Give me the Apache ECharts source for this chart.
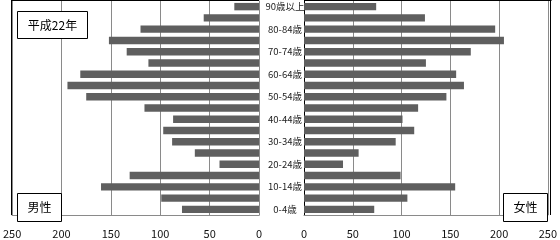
<!DOCTYPE html>
<html><head><meta charset="utf-8">
<script src="https://cdn.jsdelivr.net/npm/echarts@6/dist/echarts.min.js"></script>
<style>html,body{margin:0;padding:0;background:#fff}#c{width:560px;height:240px}</style>
</head><body><div id="c"></div>
<script>
const categories = ['0-4歳','5-9歳','10-14歳','15-19歳','20-24歳','25-29歳','30-34歳','35-39歳','40-44歳','45-49歳','50-54歳','55-59歳','60-64歳','65-69歳','70-74歳','75-79歳','80-84歳','85-89歳','90歳以上'];
const male   = [78, 99, 160, 131, 40, 65, 88, 97, 87, 116, 175, 194, 181, 112, 134, 152, 120, 56, 25];
const female = [72, 106, 155, 99, 40, 56, 94, 113, 101, 117, 146, 164, 156, 125, 171, 205, 196, 124, 74];
const ticks = [0, 50, 100, 150, 200, 250];

const FONT = '"Noto Sans CJK JP","Noto Sans",sans-serif';
const gridCol = '#8a8a8a';
const barCol = '#5f5f5f';

const chart = echarts.init(document.getElementById('c'), null, {renderer:'canvas'});
const valueAxisBase = {
  type:'value', min:ticks[0], max:ticks[ticks.length-1], interval:ticks[1]-ticks[0],
  axisLine:{show:true, lineStyle:{color:gridCol, width:1}},
  axisTick:{show:false},
  splitLine:{show:true, lineStyle:{color:gridCol, width:1}},
  axisLabel:{color:'#111', fontSize:11, fontFamily:FONT, margin:13}
};
chart.setOption({
  animation:false,
  grid:[
    {left:11, right:301, top:1, bottom:25},
    {left:304, right:9, top:1, bottom:25}
  ],
  xAxis:[
    Object.assign({}, valueAxisBase, {gridIndex:0, inverse:true}),
    Object.assign({}, valueAxisBase, {gridIndex:1})
  ],
  yAxis:[
    {type:'category', gridIndex:0, data:categories, position:'right',
     axisLine:{show:true, lineStyle:{color:gridCol}}, axisTick:{show:false}, axisLabel:{show:false}},
    {type:'category', gridIndex:1, data:categories, position:'left',
     axisLine:{show:true, lineStyle:{color:'#000'}}, axisTick:{show:false},
     axisLabel:{show:true, interval:1, align:'center', margin:19, fontSize:9.5, color:'#222', fontFamily:FONT}}
  ],
  series:[
    {type:'bar', xAxisIndex:0, yAxisIndex:0, data:male, barCategoryGap:'34%', itemStyle:{color:barCol}, z:3},
    {type:'bar', xAxisIndex:1, yAxisIndex:1, data:female, barCategoryGap:'34%', itemStyle:{color:barCol}, z:3}
  ],
  graphic:[
    {type:'line', shape:{x1:11.5, y1:0.5, x2:11.5, y2:215}, style:{stroke:'#000', lineWidth:1}, z:10},
    {type:'line', shape:{x1:11, y1:0.5, x2:259, y2:0.5}, style:{stroke:'#000', lineWidth:1}, z:10},
    {type:'line', shape:{x1:304, y1:0.5, x2:551.5, y2:0.5}, style:{stroke:'#000', lineWidth:1}, z:10},
    {type:'line', shape:{x1:550.5, y1:0.5, x2:550.5, y2:215}, style:{stroke:'#000', lineWidth:1}, z:10},
    {type:'rect', shape:{x:17.5, y:11.5, width:70, height:27}, style:{fill:'#fff', stroke:'#000', lineWidth:1}, z:20},
    {type:'text', x:52.5, y:25, style:{text:'平成22年', font:'12px '+FONT, fill:'#000', align:'center', verticalAlign:'middle'}, z:21},
    {type:'rect', shape:{x:17.5, y:193.5, width:44, height:28}, style:{fill:'#fff', stroke:'#000', lineWidth:1}, z:20},
    {type:'text', x:39.5, y:207.5, style:{text:'男性', font:'12px '+FONT, fill:'#000', align:'center', verticalAlign:'middle'}, z:21},
    {type:'rect', shape:{x:503.5, y:193.5, width:44, height:28}, style:{fill:'#fff', stroke:'#000', lineWidth:1}, z:20},
    {type:'text', x:525.5, y:207.5, style:{text:'女性', font:'12px '+FONT, fill:'#000', align:'center', verticalAlign:'middle'}, z:21}
  ]
});
</script></body></html>
